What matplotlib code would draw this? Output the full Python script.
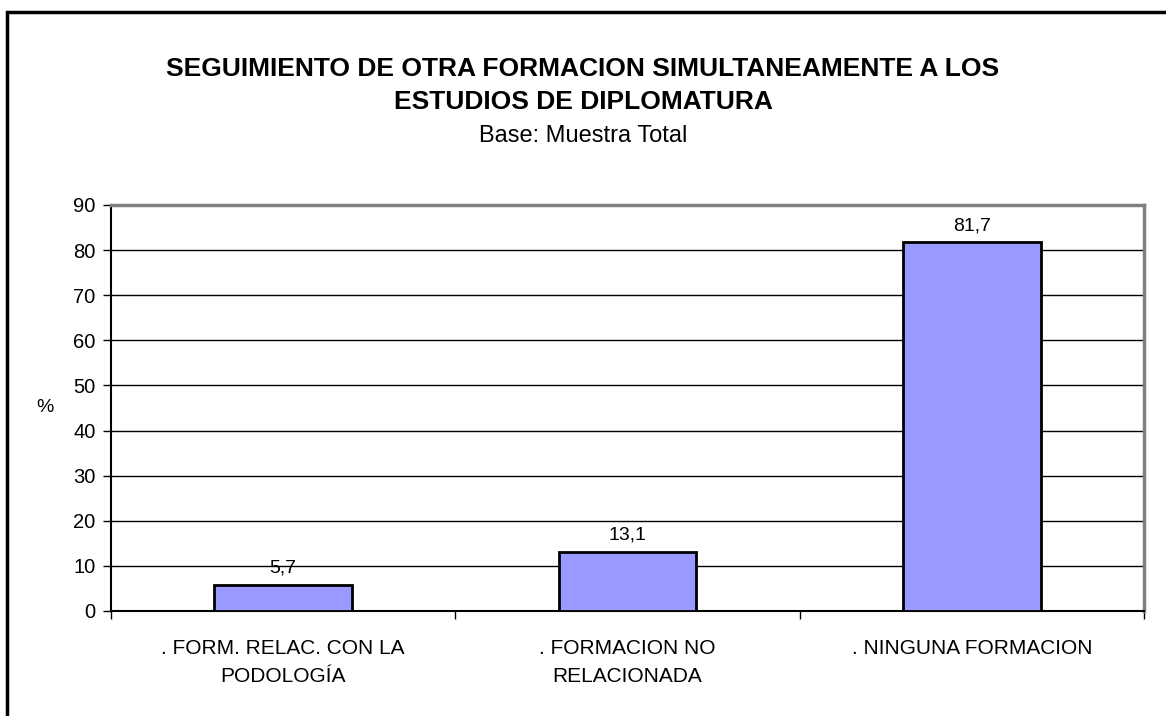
import matplotlib.pyplot as plt
import numpy as np
from matplotlib.patches import Rectangle

plt.rcParams["font.family"] = ["Liberation Sans", "DejaVu Sans"]

# data
categories = [". FORM. RELAC. CON LA\nPODOLOGÍA", ". FORMACION NO\nRELACIONADA", ". NINGUNA FORMACION"]
values = [5.7, 13.1, 81.7]
value_labels = ["5,7", "13,1", "81,7"]
yticks = [0, 10, 20, 30, 40, 50, 60, 70, 80, 90]

W, H = 1166, 716
fig = plt.figure(figsize=(W / 100, H / 100), dpi=100)
ax = fig.add_axes([111 / W, 1 - 611 / H, (1144 - 111) / W, (611 - 205) / H])

x = np.arange(len(categories))
ax.bar(x, values, width=0.4, color="#9999FF", edgecolor="black", linewidth=2, zorder=3)

for xi, v, lab in zip(x, values, value_labels):
    ax.annotate(lab, (xi, v), xytext=(0, 6), textcoords="offset points",
                ha="center", va="bottom", fontsize=14)

ax.set_xlim(-0.5, 2.5)
ax.set_ylim(0, 90)
ax.set_yticks(yticks)
ax.set_yticklabels([str(t) for t in yticks], fontsize=14.5)
ax.yaxis.grid(True, color="black", linewidth=1)
ax.set_axisbelow(True)

# ticks between categories, labels at centres
ax.set_xticks([-0.5, 0.5, 1.5, 2.5])
ax.set_xticklabels([])
ax.set_xticks(x, minor=True)
ax.set_xticklabels(categories, minor=True, fontsize=15, linespacing=1.6)
ax.tick_params(axis="x", which="minor", length=0, pad=20)
ax.tick_params(axis="x", which="major", length=6, width=1, direction="out")
ax.tick_params(axis="y", length=6, width=1, direction="out", pad=5)

for s in ["top", "right"]:
    ax.spines[s].set_color("#808080")
    ax.spines[s].set_linewidth(2.5)
ax.spines["left"].set_linewidth(1.5)
ax.spines["bottom"].set_linewidth(1.5)

fig.text(45 / W, 1 - 408 / H, "%", ha="center", va="center", fontsize=14)

fig.text(0.5, 1 - 76 / H, "SEGUIMIENTO DE OTRA FORMACION SIMULTANEAMENTE A LOS",
         ha="center", va="baseline", fontsize=19, fontweight="bold")
fig.text(0.5, 1 - 109 / H, "ESTUDIOS DE DIPLOMATURA",
         ha="center", va="baseline", fontsize=19, fontweight="bold")
fig.text(0.5, 1 - 142 / H, "Base: Muestra Total", ha="center", va="baseline", fontsize=17)

# outer frame
fig.patches.append(Rectangle((7 / W, -0.1), 1.2, 1 - 12 / H + 0.1,
                             transform=fig.transFigure, fill=False,
                             edgecolor="black", linewidth=2.5))

fig.savefig("out.png", dpi=100)
